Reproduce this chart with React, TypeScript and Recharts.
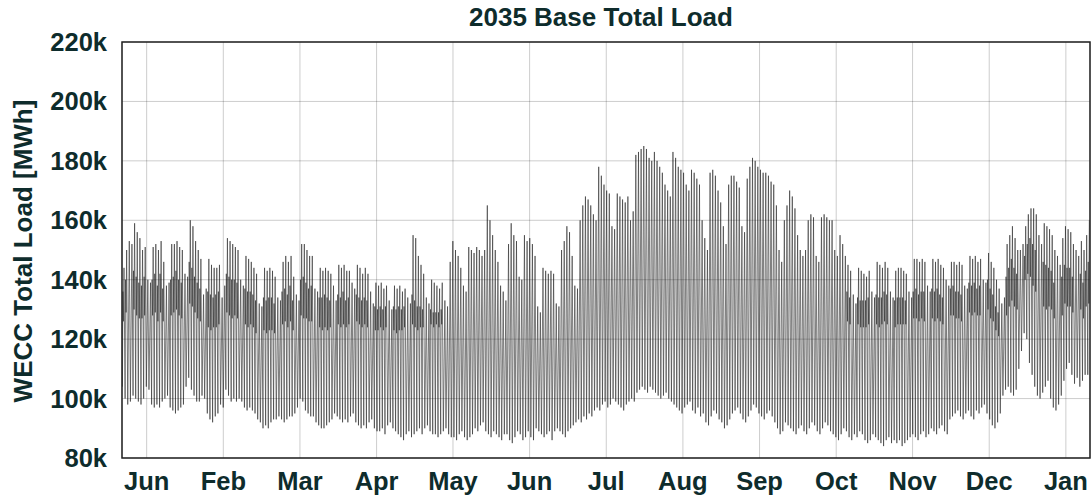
import React from 'react';
import { LineChart, Line, XAxis, YAxis, CartesianGrid, ReferenceArea } from 'recharts';

// Daily cycle of WECC total load (thousand MWh).
// One row per week; days 3 and 4 of each row are the weekend.
const dailyPeak = [
  [144, 150, 153, 152, 159, 156, 154],
  [150, 151, 140, 139, 151, 152, 150],
  [153, 146, 138, 139, 152, 152, 153],
  [151, 150, 142, 141, 160, 158, 153],
  [150, 147, 135, 137, 147, 145, 144],
  [144, 145, 134, 138, 154, 153, 152],
  [151, 150, 140, 138, 148, 147, 146],
  [144, 142, 132, 131, 144, 143, 144],
  [143, 141, 134, 133, 146, 148, 146],
  [148, 141, 135, 133, 152, 152, 150],
  [148, 148, 137, 136, 144, 143, 144],
  [143, 142, 138, 133, 145, 144, 145],
  [143, 143, 139, 137, 145, 144, 142],
  [144, 142, 136, 132, 139, 138, 139],
  [137, 138, 133, 130, 138, 137, 138],
  [136, 137, 134, 132, 155, 154, 148],
  [145, 142, 134, 132, 140, 139, 138],
  [137, 139, 133, 131, 146, 153, 150],
  [148, 144, 138, 136, 151, 150, 149],
  [151, 150, 148, 150, 165, 160, 155],
  [150, 146, 138, 136, 133, 152, 159],
  [155, 153, 141, 140, 155, 153, 154],
  [152, 148, 131, 129, 144, 143, 142],
  [143, 142, 132, 131, 150, 153, 158],
  [156, 148, 138, 137, 160, 165, 168],
  [167, 165, 162, 160, 178, 175, 172],
  [170, 169, 158, 157, 169, 168, 167],
  [166, 168, 160, 163, 182, 183, 184],
  [185, 184, 181, 180, 183, 180, 178],
  [176, 172, 170, 168, 183, 181, 178],
  [177, 176, 172, 170, 177, 176, 174],
  [172, 160, 154, 150, 176, 177, 175],
  [170, 166, 158, 152, 172, 175, 175],
  [173, 171, 158, 156, 174, 178, 181],
  [180, 178, 177, 176, 176, 175, 173],
  [172, 165, 150, 146, 160, 165, 170],
  [168, 164, 155, 150, 148, 150, 160],
  [162, 161, 148, 146, 161, 162, 161],
  [160, 160, 150, 148, 155, 152, 148],
  [145, 143, 135, 132, 144, 143, 142],
  [141, 143, 136, 134, 146, 145, 144],
  [146, 144, 136, 134, 143, 144, 144],
  [143, 142, 136, 134, 147, 147, 146],
  [147, 146, 138, 136, 147, 146, 147],
  [145, 144, 140, 138, 146, 146, 145],
  [146, 145, 138, 137, 148, 147, 148],
  [146, 147, 140, 139, 149, 146, 144],
  [140, 137, 132, 134, 152, 155, 158],
  [154, 150, 150, 152, 158, 162, 164],
  [164, 162, 155, 152, 159, 158, 157],
  [155, 150, 148, 145, 154, 158, 157],
  [156, 152, 150, 148, 153, 150, 155],
  [160],
].flat();

const dailyLow = [
  [104, 100, 98, 99, 101, 100, 99],
  [98, 100, 104, 103, 98, 97, 98],
  [97, 99, 100, 101, 97, 96, 95],
  [96, 97, 98, 104, 107, 103, 101],
  [99, 99, 101, 100, 95, 93, 92],
  [94, 95, 98, 97, 103, 101, 99],
  [100, 99, 100, 99, 97, 96, 97],
  [96, 95, 93, 92, 90, 91, 90],
  [92, 93, 93, 94, 93, 92, 93],
  [94, 94, 95, 97, 100, 99, 96],
  [95, 94, 94, 92, 91, 90, 90],
  [91, 92, 93, 95, 94, 93, 92],
  [93, 92, 94, 95, 92, 91, 90],
  [91, 90, 92, 93, 90, 89, 89],
  [90, 88, 91, 92, 90, 89, 88],
  [87, 86, 88, 89, 87, 88, 89],
  [90, 88, 90, 91, 89, 88, 88],
  [87, 88, 89, 90, 88, 87, 87],
  [86, 88, 89, 87, 86, 87, 88],
  [90, 89, 91, 92, 89, 88, 87],
  [89, 88, 87, 86, 88, 88, 86],
  [85, 87, 89, 88, 86, 87, 89],
  [87, 86, 90, 89, 88, 87, 88],
  [89, 86, 89, 90, 89, 88, 87],
  [89, 90, 91, 92, 93, 92, 94],
  [93, 95, 94, 96, 97, 96, 98],
  [99, 97, 98, 100, 99, 98, 97],
  [96, 98, 99, 100, 99, 102, 103],
  [104, 103, 102, 104, 103, 102, 101],
  [100, 101, 102, 100, 99, 98, 97],
  [96, 95, 97, 98, 99, 96, 95],
  [97, 94, 95, 92, 91, 94, 96],
  [95, 93, 92, 90, 91, 93, 95],
  [96, 97, 95, 93, 92, 94, 96],
  [98, 97, 95, 94, 93, 95, 96],
  [94, 92, 90, 88, 89, 92, 91],
  [90, 89, 88, 90, 91, 89, 88],
  [90, 92, 91, 89, 88, 90, 92],
  [91, 89, 88, 87, 86, 88, 90],
  [89, 87, 86, 88, 87, 89, 88],
  [86, 85, 86, 88, 87, 86, 85],
  [84, 86, 87, 85, 86, 85, 86],
  [84, 85, 86, 87, 88, 87, 86],
  [88, 89, 87, 88, 90, 89, 88],
  [90, 91, 89, 88, 93, 94, 95],
  [96, 94, 93, 95, 96, 94, 93],
  [96, 95, 97, 98, 95, 93, 91],
  [90, 92, 95, 101, 103, 104, 102],
  [101, 103, 110, 116, 122, 120, 112],
  [108, 104, 101, 100, 102, 104, 106],
  [100, 97, 96, 98, 101, 106, 110],
  [112, 108, 105, 107, 104, 106, 108],
  [108],
].flat();

// Winter weekdays: morning peak and midday dip (n = weekend or summer single-peak day)
const n = null;
const morningPeak = [
  [136, 140, n, n, 143, 141, 139],
  [138, 141, n, n, 140, 142, 138],
  [142, 137, n, n, 140, 141, 143],
  [140, 139, n, n, 146, 144, 141],
  [139, 137, n, n, 136, 135, 134],
  [135, 136, n, n, 142, 141, 140],
  [140, 139, n, n, 137, 136, 136],
  [135, 133, n, n, 134, 133, 134],
  [134, 132, n, n, 136, 137, 135],
  [138, 133, n, n, 140, 141, 139],
  [137, 138, n, n, 134, 134, 135],
  [134, 133, n, n, 135, 134, 136],
  [133, 134, n, n, 135, 134, 133],
  [134, 133, n, n, 131, 130, 131],
  [130, 131, n, n, 131, 130, 131],
  [130, 131, n, n, 135, 133, 131],
  [131, 130, n, n, 130, 129, 129],
  [129, 130, n, n, n, n, n],
  [n, n, n, n, n, n, n], [n, n, n, n, n, n, n], [n, n, n, n, n, n, n],
  [n, n, n, n, n, n, n], [n, n, n, n, n, n, n], [n, n, n, n, n, n, n],
  [n, n, n, n, n, n, n], [n, n, n, n, n, n, n], [n, n, n, n, n, n, n],
  [n, n, n, n, n, n, n], [n, n, n, n, n, n, n], [n, n, n, n, n, n, n],
  [n, n, n, n, n, n, n], [n, n, n, n, n, n, n], [n, n, n, n, n, n, n],
  [n, n, n, n, n, n, n], [n, n, n, n, n, n, n], [n, n, n, n, n, n, n],
  [n, n, n, n, n, n, n], [n, n, n, n, n, n, n], [n, n, n, n, n, n, n],
  [136, 134, n, n, 134, 133, 133],
  [133, 134, n, n, 135, 134, 134],
  [136, 135, n, n, 133, 134, 134],
  [134, 133, n, n, 136, 137, 135],
  [136, 136, n, n, 137, 136, 137],
  [135, 134, n, n, 137, 138, 136],
  [136, 135, n, n, 139, 138, 139],
  [137, 138, n, n, 140, 137, 135],
  [131, 129, n, n, 141, 144, 147],
  [144, 142, n, n, 148, 152, 154],
  [152, 150, n, n, 146, 145, 144],
  [143, 139, n, n, 141, 145, 144],
  [144, 141, n, n, 142, 139, 143],
  [146],
].flat();

const middayDip = [
  [126, 129, n, n, 130, 128, 127],
  [127, 128, n, n, 128, 129, 126],
  [129, 126, n, n, 128, 129, 130],
  [128, 127, n, n, 132, 131, 129],
  [127, 126, n, n, 124, 123, 124],
  [124, 125, n, n, 129, 128, 127],
  [128, 127, n, n, 125, 124, 125],
  [124, 122, n, n, 123, 122, 123],
  [123, 122, n, n, 125, 126, 124],
  [126, 123, n, n, 128, 127, 127],
  [126, 126, n, n, 124, 123, 124],
  [123, 124, n, n, 125, 124, 125],
  [124, 125, n, n, 126, 125, 124],
  [125, 124, n, n, 123, 123, 124],
  [123, 124, n, n, 123, 122, 123],
  [123, 124, n, n, 125, 124, 123],
  [124, 124, n, n, 125, 124, 125],
  [124, 125, n, n, n, n, n],
  [n, n, n, n, n, n, n], [n, n, n, n, n, n, n], [n, n, n, n, n, n, n],
  [n, n, n, n, n, n, n], [n, n, n, n, n, n, n], [n, n, n, n, n, n, n],
  [n, n, n, n, n, n, n], [n, n, n, n, n, n, n], [n, n, n, n, n, n, n],
  [n, n, n, n, n, n, n], [n, n, n, n, n, n, n], [n, n, n, n, n, n, n],
  [n, n, n, n, n, n, n], [n, n, n, n, n, n, n], [n, n, n, n, n, n, n],
  [n, n, n, n, n, n, n], [n, n, n, n, n, n, n], [n, n, n, n, n, n, n],
  [n, n, n, n, n, n, n], [n, n, n, n, n, n, n], [n, n, n, n, n, n, n],
  [126, 125, n, n, 125, 124, 124],
  [124, 125, n, n, 125, 124, 125],
  [126, 125, n, n, 124, 125, 125],
  [125, 125, n, n, 127, 127, 126],
  [127, 126, n, n, 127, 126, 127],
  [126, 125, n, n, 128, 128, 127],
  [127, 126, n, n, 129, 128, 129],
  [128, 128, n, n, 130, 127, 126],
  [123, 121, n, n, 128, 131, 133],
  [131, 130, n, n, 140, 142, 141],
  [138, 136, n, n, 131, 130, 131],
  [130, 127, n, n, 128, 132, 131],
  [131, 129, n, n, 130, 127, 131],
  [132],
].flat();

const monthLabels = ['Jun', 'Feb', 'Mar', 'Apr', 'May', 'Jun', 'Jul', 'Aug', 'Sep', 'Oct', 'Nov', 'Dec', 'Jan'];
const monthTicks = [9.3, 38.2, 67.1, 96.0, 124.8, 153.7, 182.6, 211.5, 240.4, 269.3, 298.1, 327.0, 355.9];
const loadTicks = [80, 100, 120, 140, 160, 180, 200, 220];

// hour of day for each reading
const HOUR = { low: 4, morning: 8, midday: 13, peak: 18 };

const rows: { t: number; load: number }[] = [];
dailyPeak.forEach((peak, day) => {
  rows.push({ t: day + HOUR.low / 24, load: dailyLow[day] });
  if (morningPeak[day] != null && middayDip[day] != null) {
    rows.push({ t: day + HOUR.morning / 24, load: morningPeak[day] as number });
    rows.push({ t: day + HOUR.midday / 24, load: middayDip[day] as number });
  }
  rows.push({ t: day + HOUR.peak / 24, load: peak });
});

const TEXT = '#0e2c2c';
const tickStyle = { fill: TEXT, fontSize: 25.5, fontWeight: 700 };

export default function App() {
  return (
    <div
      style={{
        position: 'absolute', left: 0, top: 0, width: 1091, height: 500,
        background: '#fff', overflow: 'hidden',
        fontFamily: '"Liberation Sans", Arial, sans-serif',
      }}
    >
      <div
        style={{
          position: 'absolute', left: 111, top: 4, width: 980, textAlign: 'center',
          fontSize: 26, lineHeight: '26px', fontWeight: 700, color: TEXT,
        }}
      >
        2035 Base Total Load
      </div>
      <div
        style={{
          position: 'absolute', left: 23, top: 251, whiteSpace: 'nowrap',
          transform: 'translate(-50%, -50%) rotate(-90deg)',
          fontSize: 26, lineHeight: '26px', fontWeight: 700, color: TEXT,
        }}
      >
        WECC Total Load [MWh]
      </div>
      <LineChart width={1091} height={500} data={rows} margin={{ top: 42, right: 1, bottom: 0, left: 0 }}>
        <XAxis
          dataKey="t"
          type="number"
          domain={[0, 365]}
          ticks={monthTicks}
          interval={0}
          height={42}
          tickLine={false}
          axisLine={false}
          tickSize={6}
          tickMargin={8}
          tickFormatter={(v, i) => monthLabels[i]}
          tick={tickStyle}
        />
        <YAxis
          type="number"
          domain={[80, 220]}
          ticks={loadTicks}
          interval={0}
          width={122}
          tickLine={false}
          axisLine={false}
          tickSize={6}
          tickMargin={9}
          tickFormatter={(v) => `${v}k`}
          tick={tickStyle}
        />
        <Line
          type="linear"
          dataKey="load"
          stroke="#2a2a2a"
          strokeWidth={0.6}
          dot={false}
          activeDot={false}
          isAnimationActive={false}
        />
        <CartesianGrid stroke="rgba(0,0,0,0.2)" strokeWidth={1} zIndex={1000} />
        <ReferenceArea x1={0} x2={365} y1={80} y2={220} fill="none" stroke="#222" strokeWidth={1.5} zIndex={1001} />
      </LineChart>
    </div>
  );
}
